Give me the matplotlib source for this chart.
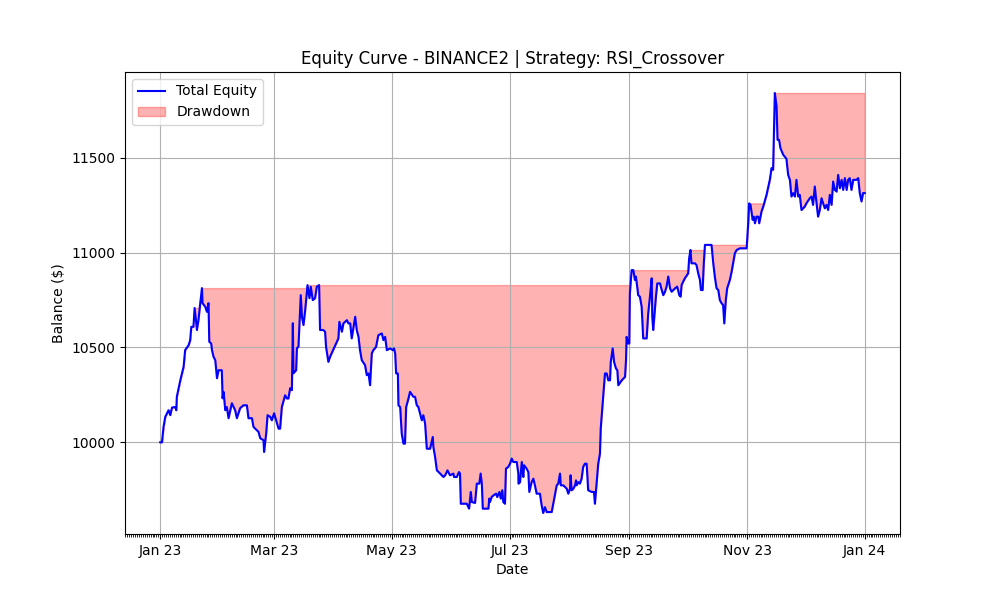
import numpy as np
import pandas as pd
import matplotlib
matplotlib.use("Agg")
import matplotlib.pyplot as plt
import matplotlib.dates as mdates

# Days since 2023-01-01 and account balance
days = [
    0, 0.9, 1.7, 2.6, 4.3, 5.2, 6.1, 7.8, 8.3, 8.6, 10.4, 12.1, 12.9, 14.7, 15.5, 16.1,
    17.2, 17.8, 18.5, 19.0, 19.8, 21.6, 21.9, 23.3, 24.2, 25.0, 25.4, 26.4, 26.8, 27.6,
    28.5, 29.4, 30.2, 31.9, 32.3, 32.8, 33.7, 34.5, 35.4, 37.1, 38.8, 39.7, 41.4, 43.1,
    44.9, 45.7, 47.5, 48.3, 50.1, 50.9, 51.8, 53.5, 53.8, 54.9, 55.6, 57.0, 57.8, 59.0,
    59.5, 61.3, 62.1, 63.0, 64.7, 65.6, 66.4, 67.3, 68.2, 68.7, 69.0, 70.4, 70.8, 71.6,
    72.8, 73.4, 74.2, 75.1, 76.3, 77.3, 78.0, 79.0, 80.2, 81.1, 82.3, 82.8, 84.5, 85.4,
    85.9, 87.1, 88.0, 92.3, 92.8, 94.1, 94.9, 96.7, 97.5, 98.4, 99.2, 101.0, 101.8, 102.7,
    103.5, 104.4, 106.1, 107.0, 107.9, 108.7, 109.6, 110.4, 111.8, 113.0, 114.8, 115.6,
    116.5, 117.4, 119.1, 120.5, 121.1, 121.7, 122.2, 123.1, 123.4, 124.3, 125.1, 126.0,
    126.8, 127.4, 128.6, 129.4, 131.1, 132.0, 132.9, 133.7, 134.6, 135.5, 136.3, 137.2,
    138.1, 139.8, 141.2, 141.5, 142.4, 143.3, 145.0, 146.7, 147.6, 148.8, 150.1, 151.9,
    152.2, 153.6, 154.8, 155.3, 155.7, 158.8, 160.0, 160.9, 161.4, 163.1, 164.0, 165.3,
    166.0, 166.6, 167.1, 170.0, 170.5, 170.8, 171.7, 172.6, 174.0, 174.6, 175.7, 176.4,
    177.2, 177.7, 178.6, 179.1, 180.3, 181.2, 182.1, 182.9, 184.7, 185.5, 185.6, 186.4,
    187.3, 188.1, 188.5, 189.8, 190.7, 191.2, 192.4, 193.3, 194.1, 195.0, 196.7, 197.6,
    198.4, 199.3, 200.2, 202.8, 203.6, 205.4, 206.2, 207.1, 207.5, 208.8, 209.7, 210.6,
    211.4, 212.3, 212.6, 213.1, 214.0, 214.9, 215.4, 215.7, 216.6, 217.4, 218.3, 219.1,
    220.0, 220.9, 221.7, 223.5, 224.7, 225.2, 226.9, 227.8, 228.2, 229.2, 230.4, 231.3,
    232.1, 233.0, 233.4, 234.4, 235.1, 236.1, 236.8, 237.3, 239.1, 240.8, 241.3, 241.6,
    242.4, 243.0, 243.3, 244.2, 245.1, 245.9, 246.4, 247.1, 247.6, 248.5, 249.4, 250.2,
    252.0, 252.8, 253.7, 254.6, 254.9, 255.4, 256.8, 257.5, 258.9, 259.8, 260.6, 261.5,
    262.3, 263.2, 264.1, 264.9, 265.8, 266.7, 267.8, 268.9, 269.6, 270.1, 270.9, 271.8,
    273.5, 274.0, 274.7, 275.2, 277.0, 277.8, 278.7, 279.6, 280.1, 281.0, 281.6, 282.2,
    285.6, 286.5, 287.3, 288.2, 289.1, 289.9, 290.8, 291.6, 292.2, 293.0, 293.7, 295.1,
    296.0, 296.8, 297.7, 298.6, 300.3, 302.9, 303.8, 304.6, 305.1, 305.8, 306.9, 307.5,
    308.1, 308.9, 309.8, 310.3, 311.5, 312.4, 314.1, 315.8, 316.7, 317.5, 318.4, 319.3,
    319.8, 320.6, 321.3, 322.7, 324.4, 325.3, 326.2, 327.0, 327.9, 328.8, 329.6, 330.5,
    331.3, 332.2, 333.9, 334.8, 336.5, 337.4, 338.2, 339.1, 340.0, 340.8, 341.7, 342.6,
    343.4, 344.3, 345.2, 346.0, 346.9, 347.8, 348.6, 349.5, 350.4, 351.2, 352.1, 353.0,
    353.8, 354.7, 355.6, 356.4, 357.2, 358.1, 359.0, 360.7, 361.6, 362.4, 363.3, 364.1,
    365.0,
]
balance = [
    10000, 10000, 10080, 10134, 10169, 10143, 10183, 10186, 10169, 10240, 10327, 10398, 10486, 10512, 10538, 10609,
    10609, 10708, 10644, 10592, 10644, 10813, 10734, 10715, 10688, 10734, 10530, 10521, 10486, 10451,
    10433, 10338, 10380, 10380, 10232, 10266, 10169, 10186, 10127, 10206, 10169, 10127, 10180, 10195,
    10195, 10127, 10127, 10081, 10063, 10055, 10021, 10011, 9949, 10047, 10143, 10134, 10116, 10153,
    10134, 10072, 10072, 10186, 10248, 10231, 10231, 10285, 10275, 10628, 10364, 10380, 10497, 10503,
    10776, 10662, 10618, 10697, 10829, 10760, 10820, 10750, 10760, 10820, 10829, 10592, 10592, 10583,
    10503, 10424, 10451, 10548, 10635, 10583, 10627, 10644, 10627, 10627, 10548, 10662, 10592, 10556,
    10486, 10433, 10407, 10354, 10363, 10301, 10469, 10486, 10503, 10565, 10574, 10539,
    10556, 10486, 10495, 10486, 10495, 10469, 10363, 10363, 10195, 10186, 10046, 9993,
    9993, 10186, 10231, 10266, 10240, 10240, 10195, 10187, 10151, 10116, 10143, 10099,
    9966, 9966, 10028, 9975, 9922, 9852, 9835, 9817, 9826, 9852, 9826, 9835,
    9817, 9817, 9843, 9835, 9676, 9676, 9650, 9738, 9685, 9680, 9782, 9782,
    9835, 9782, 9650, 9650, 9703, 9685, 9711, 9720, 9729, 9711, 9738, 9703,
    9747, 9685, 9676, 9861, 9870, 9887, 9914, 9896, 9896, 9835, 9782, 9790,
    9896, 9817, 9879, 9861, 9843, 9738, 9790, 9808, 9773, 9729, 9729, 9667,
    9627, 9658, 9632, 9632, 9676, 9773, 9782, 9835, 9773, 9773, 9764, 9755,
    9729, 9755, 9826, 9747, 9755, 9773, 9799, 9773, 9790, 9782, 9808, 9870,
    9887, 9887, 9747, 9738, 9738, 9676, 9887, 9940, 10072, 10204, 10363, 10363,
    10327, 10327, 10424, 10495, 10424, 10389, 10380, 10301, 10327, 10345, 10433, 10556,
    10521, 10521, 10786, 10908, 10908, 10856, 10874, 10821, 10776, 10768, 10715, 10548,
    10548, 10680, 10768, 10865, 10662, 10592, 10768, 10838, 10838, 10803, 10776, 10794,
    10821, 10874, 10812, 10794, 10803, 10812, 10821, 10776, 10768, 10829, 10847, 10865,
    10891, 10970, 11014, 10944, 10944, 10935, 10891, 10856, 10803, 10803, 10944, 11041,
    11041, 10944, 10874, 10812, 10803, 10750, 10733, 10724, 10627, 10750, 10812, 10856,
    10899, 10944, 10997, 11014, 11023, 11023, 11023, 11155, 11260, 11252, 11173, 11190,
    11155, 11190, 11190, 11155, 11217, 11243, 11305, 11384, 11446, 11437, 11842, 11771,
    11595, 11595, 11551, 11517, 11495, 11410, 11384, 11296, 11314, 11296, 11384, 11296,
    11305, 11225, 11243, 11261, 11287, 11296, 11252, 11349, 11261, 11190, 11225, 11287,
    11261, 11234, 11252, 11225, 11305, 11252, 11375, 11331, 11322, 11410, 11340, 11384,
    11331, 11393, 11331, 11384, 11393, 11331, 11384, 11384, 11393, 11314, 11270, 11314,
    11314,
]

dates = pd.Timestamp("2023-01-01") + pd.to_timedelta(days, unit="D")
equity = np.array(balance, dtype=float)
peak = np.maximum.accumulate(equity)

fig, ax = plt.subplots(figsize=(10, 6), dpi=100)
ax.plot(dates, equity, color="blue", linewidth=1.5, label="Total Equity")
ax.fill_between(dates, equity, peak, color="red", alpha=0.3, label="Drawdown")

ax.set_title("Equity Curve - BINANCE2 | Strategy: RSI_Crossover")
ax.set_xlabel("Date")
ax.set_ylabel("Balance ($)")
ax.xaxis.set_major_locator(mdates.MonthLocator(interval=2))
ax.xaxis.set_major_formatter(mdates.DateFormatter("%b %y"))
ax.xaxis.set_minor_locator(mdates.DayLocator())
ax.legend(loc="upper left")
ax.grid(True)

plt.savefig("out.png", dpi=100)
